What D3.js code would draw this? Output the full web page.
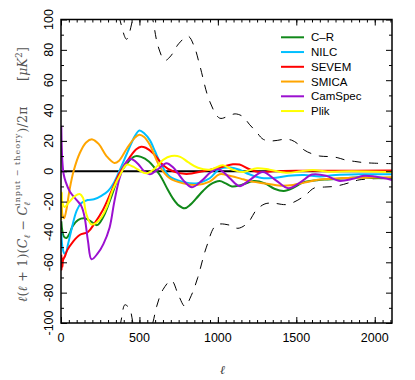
<!DOCTYPE html>
<html>
<head>
<meta charset="utf-8">
<script src="https://cdn.jsdelivr.net/npm/d3@7"></script>
<style>
    body { margin: 0; background: #fff; }
    svg { display: block; }
</style>
</head>
<body>
<div class="chart"></div>
<script>
// series as [ell, value] pairs
const cr = [[2,-33],[8,-39],[18,-43],[35,-44],[55,-41],[75,-36],[110,-32],[150,-31],[190,-33],[230,-35.5],[270,-30],[320,-17],[370,-3],[420,5],[470,9.8],[510,9.5],[560,6.5],[630,-2.5],[680,-12],[714,-18],[750,-22.5],[788,-24.4],[825,-22],[863,-17.8],[905,-13],[948,-9],[1011,-6.5],[1050,-8],[1090,-10],[1150,-9],[1230,-6.5],[1300,-8],[1360,-11.5],[1420,-13],[1480,-11],[1540,-7.5],[1600,-6.3],[1680,-5.5],[1770,-5],[1850,-4.2],[1920,-4],[2000,-4.5],[2110,-4.5]];
const nilc = [[2,-40],[8,-49],[20,-54],[30,-54],[45,-48],[70,-37],[100,-26],[130,-21],[170,-19],[210,-18.5],[260,-16],[300,-13],[340,-7],[380,2],[430,14],[470,23],[500,26.8],[530,25],[566,20.5],[600,13],[630,6.3],[693,-3.5],[778,-7],[863,-8],[948,-4.6],[1011,1.5],[1080,2.5],[1138,1],[1200,-2],[1280,-4.5],[1350,-4.5],[1450,-3],[1550,-2.5],[1650,-3.5],[1750,-2.5],[1900,-2],[2110,-2]];
const sevem = [[2,-55],[4,-65],[6,-57],[9,-63],[13,-58.5],[25,-56],[40,-52],[76,-46.5],[119,-42],[172,-40],[214,-34.3],[267,-25.5],[320,-13.5],[373,-1.3],[437,9],[480,14.5],[511,16.2],[540,15.5],[587,11.9],[651,4],[714,0],[799,-1.8],[905,0],[970,1.5],[1032,3],[1096,4.6],[1138,4.4],[1202,1.3],[1260,-0.5],[1350,0],[1500,0.3],[1700,0.3],[2110,0.5]];
const smica = [[2,-14],[5,-24],[10,-29],[20,-31],[35,-25],[55,-12],[80,0],[120,12],[160,19],[200,21],[240,18],[290,10],[340,5.5],[370,7],[420,15],[470,22],[500,24],[530,22.5],[566,17.4],[630,3],[693,-4.6],[778,-8],[863,-9],[948,-6.8],[1011,-2],[1075,-3],[1160,-5.3],[1200,-6.5],[1300,-8],[1400,-9.5],[1480,-9],[1550,-7.5],[1650,-5.5],[1800,-4.5],[2110,-4]];
const camspec = [[2,30],[5,15],[9,6],[17,-2],[30,-7],[57,-13.5],[100,-19],[130,-23],[150,-30],[172,-46],[195,-58],[235,-54],[270,-48],[310,-37],[340,-20],[375,-4],[410,5],[445,8],[490,5],[530,0],[566,-2],[620,1.5],[672,5.3],[720,2],[780,-6],[835,-10.5],[900,-6],[950,-1],[1000,1.5],[1040,-1],[1080,-5],[1138,-9.8],[1200,-6],[1287,-0.5],[1370,-6],[1450,-11.2],[1530,-7],[1600,-2.2],[1690,-3],[1770,-6.3],[1860,-5],[1930,-3],[2000,-3.5],[2110,-5.7]];
const plik = [[2,-32],[4,-14],[8,-20],[22,-23.5],[55,-20],[87,-16.5],[119,-15],[140,-17.5],[161,-28],[193,-35],[225,-34],[260,-30],[290,-24],[331,-12],[384,-1],[418,4.3],[460,3],[492,1],[545,-1.3],[600,2],[651,7.5],[704,10],[760,9.5],[810,6],[873,2.3],[948,1],[1000,3],[1032,4],[1096,1],[1160,-0.5],[1250,2],[1330,1],[1435,-1],[1530,0],[1605,0.8],[1700,-0.3],[1850,0],[2110,-0.5]];
// error envelope (dashed)
const upperBound = [[300,135],[375,100],[418,87],[450,97],[480,115],[530,125],[585,100],[620,82],[662,73],[700,76],[750,84],[810,89],[850,82],[884,70],[948,46],[1011,35],[1060,36],[1110,37.8],[1160,36],[1200,31],[1245,26],[1290,21],[1350,20],[1420,21],[1470,20.5],[1510,18],[1550,14],[1600,11.5],[1650,10],[1700,9.7],[1760,9],[1810,7.5],[1870,6.5],[1930,5.7],[2000,5.3],[2110,5]];
const lowerBound = [[300,-135],[380,-100],[407,-88],[425,-89],[440,-91],[470,-105],[530,-118],[585,-100],[610,-89],[650,-78],[704,-72],[750,-82],[790,-89],[830,-82],[872,-70],[927,-50],[990,-35.5],[1075,-35.5],[1128,-37.6],[1191,-34],[1245,-25.6],[1300,-21.5],[1350,-21],[1430,-22],[1470,-21],[1510,-19],[1560,-15.6],[1615,-11],[1680,-10.4],[1740,-10],[1800,-8.7],[1860,-6.8],[1900,-5.7],[1980,-5],[2110,-4.5]];

const seriesNames = ["C\u2013R", "NILC", "SEVEM", "SMICA", "CamSpec", "Plik"];
const seriesColors = ["#11891a", "#00bfff", "#ff0000", "#ffa500", "#9b10d0", "#ffff00"];
const seriesData = [cr, nilc, sevem, smica, camspec, plik];

const xTicks = [0, 500, 1000, 1500, 2000];
const yTicks = [-100, -80, -60, -40, -20, 0, 20, 40, 60, 80, 100];

const svgW = 415, svgH = 380;
const m = {left: 61, right: 23, top: 19.5, bottom: 57};

const x = d3.scaleLinear().domain([0, 2110]).range([m.left, svgW - m.right]);
const y = d3.scaleLinear().domain([-100, 100]).range([svgH - m.bottom, m.top]);

const svg = d3.select("div.chart")
    .append("svg")
        .attr("width", svgW)
        .attr("height", svgH)
        .style("font-family", "'Liberation Sans', Arial, sans-serif");

svg.append("clipPath").attr("id", "plot-clip")
    .append("rect")
    .attr("x", x(0)).attr("y", y(100))
    .attr("width", x(2110) - x(0)).attr("height", y(-100) - y(100));

const plot = svg.append("g").attr("clip-path", "url(#plot-clip)");

const line = d3.line()
    .x(d => x(d[0]))
    .y(d => y(d[1]))
    .curve(d3.curveCatmullRom.alpha(0.5));

[upperBound, lowerBound].forEach(b => {
    plot.append("path")
        .attr("d", line(b))
        .attr("fill", "none")
        .attr("stroke", "#000")
        .attr("stroke-width", 1)
        .attr("stroke-dasharray", "9,8");
});

plot.append("line")
    .attr("x1", x(0)).attr("x2", x(2110))
    .attr("y1", y(0)).attr("y2", y(0))
    .attr("stroke", "#000")
    .attr("stroke-width", 2);

seriesData.forEach((s, i) => {
    plot.append("path")
        .attr("d", line(s))
        .attr("fill", "none")
        .attr("stroke", seriesColors[i])
        .attr("stroke-width", 2);
});

// axes: ticks pointing inward on all four sides
const gx0 = svg.append("g").attr("transform", `translate(0,${y(-100)})`)
    .call(d3.axisBottom(x).tickValues(d3.range(0, 2101, 50)).tickSize(-3).tickFormat(""));
const gx1 = svg.append("g").attr("transform", `translate(0,${y(-100)})`)
    .call(d3.axisBottom(x).tickValues(xTicks).tickSize(-6).tickFormat(""));
const gt0 = svg.append("g").attr("transform", `translate(0,${y(100)})`)
    .call(d3.axisTop(x).tickValues(d3.range(0, 2101, 50)).tickSize(-3).tickFormat(""));
const gt1 = svg.append("g").attr("transform", `translate(0,${y(100)})`)
    .call(d3.axisTop(x).tickValues(xTicks).tickSize(-6).tickFormat(""));
const gy0 = svg.append("g").attr("transform", `translate(${x(0)},0)`)
    .call(d3.axisLeft(y).tickValues(d3.range(-90, 91, 20)).tickSize(-3).tickFormat(""));
const gy1 = svg.append("g").attr("transform", `translate(${x(0)},0)`)
    .call(d3.axisLeft(y).tickValues(yTicks).tickSize(-6).tickFormat(""));
const gr0 = svg.append("g").attr("transform", `translate(${x(2110)},0)`)
    .call(d3.axisRight(y).tickValues(d3.range(-90, 91, 20)).tickSize(-3).tickFormat(""));
const gr1 = svg.append("g").attr("transform", `translate(${x(2110)},0)`)
    .call(d3.axisRight(y).tickValues(yTicks).tickSize(-6).tickFormat(""));

[gx0, gx1, gt0, gt1, gy0, gy1, gr0, gr1].forEach(g => {
    g.select(".domain").remove();
    g.selectAll("line").attr("stroke", "#000").attr("stroke-width", 1);
});

svg.append("rect")
    .attr("x", x(0)).attr("y", y(100))
    .attr("width", x(2110) - x(0)).attr("height", y(-100) - y(100))
    .attr("fill", "none")
    .attr("stroke", "#000")
    .attr("stroke-width", 1.5);

// tick labels
svg.selectAll("text.xlab")
    .data(xTicks)
    .join("text")
    .attr("class", "xlab")
    .attr("x", d => x(d))
    .attr("y", 342)
    .attr("text-anchor", "middle")
    .attr("font-size", 12.5)
    .text(d => d);

svg.selectAll("text.ylab")
    .data(yTicks)
    .join("text")
    .attr("class", "ylab")
    .attr("transform", d => `translate(53,${y(d)}) rotate(-90)`)
    .attr("text-anchor", "middle")
    .attr("font-size", 12.5)
    .text(d => d < 0 ? "-" + Math.abs(d) : d);

// axis titles
svg.append("text")
    .attr("x", 222.5).attr("y", 373.5)
    .attr("text-anchor", "middle")
    .attr("font-family", "'DejaVu Serif', serif")
    .attr("font-style", "italic")
    .attr("font-size", 12)
    .attr("fill", "#333")
    .text("\u2113");

const yt = svg.append("text")
    .attr("transform", `translate(27,174.5) rotate(-90)`)
    .attr("text-anchor", "middle")
    .attr("font-family", "'DejaVu Serif', serif")
    .attr("font-size", 12.5)
    .attr("fill", "#555");
const parts = [
    {t: "\u2113", it: true},
    {t: "(", it: false},
    {t: "\u2113", it: true},
    {t: " + 1)(", it: false},
    {t: "C", it: true},
    {t: "\u2113", it: true, fs: 8.5, dy: 3},
    {t: " \u2212 ", it: false, dy: -3},
    {t: "C", it: true},
    {t: "\u2113", it: true, fs: 8.5, dy: 3},
    {t: "input \u2212 theory", it: false, fs: 8, dy: -10, dx: -4, ls: 1},
    {t: ")/2\u03c0", it: false, dy: 7},
    {t: "\u2003\u2003[", it: false},
    {t: "\u03bcK", it: true},
    {t: "2", it: false, fs: 8.5, dy: -5},
    {t: "]", it: false, dy: 5}
];
parts.forEach(p => {
    yt.append("tspan")
        .attr("font-style", p.it ? "italic" : "normal")
        .attr("font-size", p.fs || 12.5)
        .attr("letter-spacing", p.ls || 0.25)
        .attr("dy", p.dy || 0)
        .attr("dx", p.dx || 0)
        .text(p.t);
});

// legend
const legend = svg.append("g");
seriesNames.forEach((n, i) => {
    const ly = 37.3 + i * 14.75;
    legend.append("line")
        .attr("x1", 281).attr("x2", 304)
        .attr("y1", ly).attr("y2", ly)
        .attr("stroke", seriesColors[i])
        .attr("stroke-width", 2);
    legend.append("text")
        .attr("x", 311).attr("y", ly + 4)
        .attr("font-size", 11.5)
        .text(n);
});
</script>
</body>
</html>
